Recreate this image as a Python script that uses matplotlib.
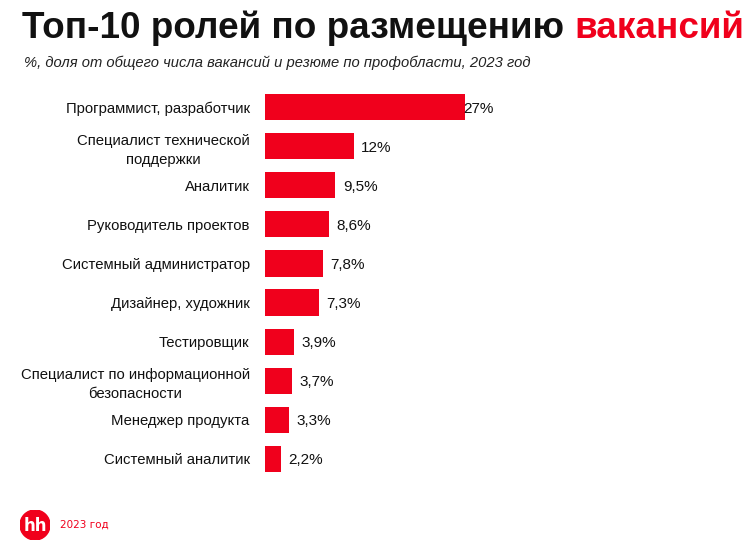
import matplotlib
matplotlib.use('Agg')
from matplotlib import pyplot as plt
from matplotlib.patches import Circle

roles = ['Программист, разработчик', 'Специалист технической\nподдержки', 'Аналитик',
         'Руководитель проектов', 'Системный администратор', 'Дизайнер, художник',
         'Тестировщик', 'Специалист по информационной\nбезопасности', 'Менеджер продукта',
         'Системный аналитик']
shares = [27, 12, 9.5, 8.6, 7.8, 7.3, 3.9, 3.7, 3.3, 2.2]
value_labels = ['27%', '12%', '9,5%', '8,6%', '7,8%', '7,3%', '3,9%', '3,7%', '3,3%', '2,2%']

RED = '#f0001c'
W, H = 750, 549

fig = plt.figure(figsize=(7.5, 5.49), dpi=100)
fig.patch.set_facecolor('white')

ax = fig.add_axes([265 / W, 1 - 478.5 / H, 30 * 7.41 / W, 391 / H])
y = list(range(len(roles)))
ax.barh(y, shares, height=0.67, color=RED)
ax.set_ylim(len(roles) - 0.5, -0.5)
ax.set_xlim(0, 30)
for yi, v, lab in zip(y, shares, value_labels):
    ax.text(v + (-0.3 if v > 20 else 1.0), yi, lab, va='center_baseline', ha='left',
            fontsize=11, color='#111111', family='Liberation Sans')
ax.set_yticks(y)
ax.set_yticklabels(roles, fontsize=10.7, color='#111111', linespacing=1.45,
                   multialignment='center', family='Liberation Sans')
ax.tick_params(axis='y', length=0, pad=11)
ax.set_xticks([])
for s in ax.spines.values():
    s.set_visible(False)

# title in two colours, fitted to the reference width
def title_parts(size):
    a = fig.text(22 / W, 1 - 38 / H, 'Топ-10 ролей по размещению ', fontsize=size,
                 fontweight='bold', family='Liberation Sans', color='#111111',
                 va='baseline')
    fig.canvas.draw()
    e = a.get_window_extent()
    b = fig.text(e.x1 / W, 1 - 38 / H, 'вакансий', fontsize=size, fontweight='bold',
                 family='Liberation Sans', color=RED, va='baseline')
    fig.canvas.draw()
    return a, b

t1, t2 = title_parts(24)
width = t2.get_window_extent().x1 - t1.get_window_extent().x0
size = 24 * 723 / width
t1.remove()
t2.remove()
title_parts(size)

sub = fig.text(24 / W, 1 - 67 / H,
               '%, доля от общего числа вакансий и резюме по профобласти, 2023 год',
               fontsize=11, style='italic', family='Liberation Sans', color='#222222',
               va='baseline')
fig.canvas.draw()
sw = sub.get_window_extent().width
sub.set_fontsize(11 * 503 / sw)

# hh logo
ax_logo = fig.add_axes([20 / W, 1 - 540 / H, 30 / W, 30 / H])
ax_logo.set_aspect('equal')
ax_logo.add_patch(Circle((0.5, 0.5), 0.5, color=RED))
ax_logo.set_xlim(0, 1)
ax_logo.set_ylim(0, 1)
ax_logo.axis('off')
ax_logo.text(0.5, 0.47, 'hh', ha='center', va='center', color='white',
             fontsize=12, fontweight='bold', family='DejaVu Sans')
fig.text(60 / W, 1 - 525 / H, '2023 год', fontsize=7.5, color=RED, va='center',
         family='DejaVu Sans')

fig.savefig('out.png', dpi=100)
